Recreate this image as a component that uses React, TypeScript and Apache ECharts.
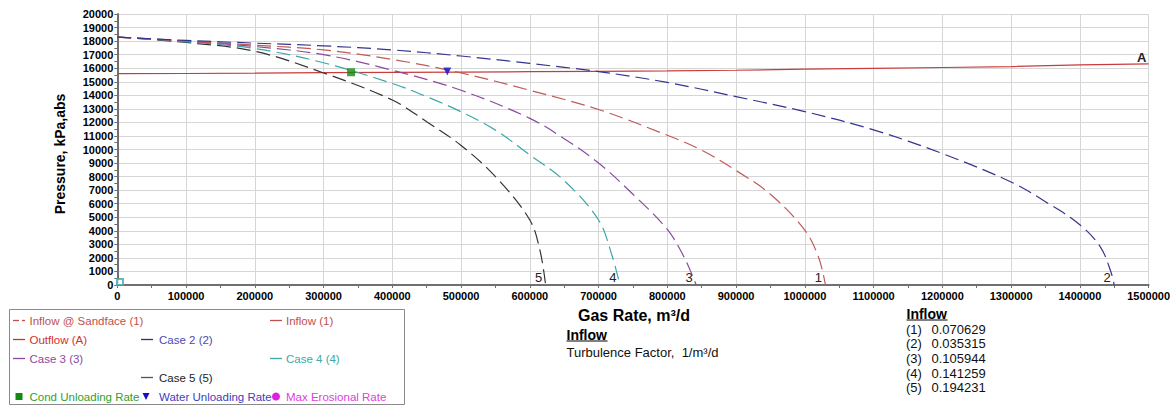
import React, { useEffect, useRef } from "react";
import * as echarts from "echarts";

// ---------- data ----------
const case1Rate = [0, 100000, 200000, 300000, 400000, 500000, 600000, 700000, 800000, 850000, 900000, 950000, 1000000, 1020000, 1030000];
const case1Pres = [18300, 18000, 17700, 17350, 16650, 15650, 14370, 12950, 11050, 9950, 8450, 6700, 4050, 2050, 0];

const case2Rate = [0, 100000, 200000, 300000, 400000, 500000, 600000, 700000, 800000, 900000, 1000000, 1100000, 1200000, 1300000, 1350000, 1400000, 1430000, 1445000, 1450000];
const case2Pres = [18300, 18050, 17850, 17650, 17350, 16900, 16350, 15750, 14950, 13900, 12800, 11450, 9700, 7600, 6150, 4450, 2800, 1000, 0];

const case3Rate = [0, 100000, 200000, 300000, 400000, 500000, 600000, 650000, 700000, 750000, 800000, 825000, 842000];
const case3Pres = [18300, 18000, 17600, 17000, 15850, 14370, 12300, 10800, 9000, 6700, 4100, 2000, 0];

const case4Rate = [0, 100000, 200000, 300000, 400000, 450000, 500000, 550000, 600000, 650000, 700000, 720000, 731000];
const case4Pres = [18300, 17950, 17450, 16400, 14870, 13900, 12780, 11430, 9600, 7700, 4800, 2100, 0];

const case5Rate = [0, 100000, 200000, 300000, 400000, 450000, 500000, 550000, 600000, 615000, 623000];
const case5Pres = [18300, 17900, 17250, 15650, 13650, 12050, 10300, 8000, 4800, 2500, 0];

const outflowRate = [0, 100000, 200000, 300000, 400000, 500000, 600000, 700000, 800000, 900000, 1000000, 1100000, 1200000, 1300000, 1400000, 1500000];
const outflowPres = [15600, 15610, 15630, 15670, 15690, 15710, 15740, 15770, 15800, 15850, 15930, 15990, 16050, 16120, 16250, 16320];

const condUnloading = [[340000, 15700]];
const waterUnloading = [[480000, 15750]];
const originMarker = [[3900, 220]];

const caseTags = ["1", "2", "3", "4", "5"];
const turbulenceFactors = ["0.070629", "0.035315", "0.105944", "0.141259", "0.194231"];

const legendEntries = [
  { text: "Inflow @ Sandface (1)", color: "#c0504d", textColor: "#c0504d", col: 0, row: 0, kind: "dashdot" },
  { text: "Inflow (1)", color: "#c0504d", textColor: "#c0504d", col: 2, row: 0, kind: "line" },
  { text: "Outflow (A)", color: "#d03030", textColor: "#d03030", col: 0, row: 1, kind: "line" },
  { text: "Case 2 (2)", color: "#2a2a90", textColor: "#4a4ab0", col: 1, row: 1, kind: "line" },
  { text: "Case 3 (3)", color: "#8a4aa0", textColor: "#8a4aa0", col: 0, row: 2, kind: "line" },
  { text: "Case 4 (4)", color: "#40a8a8", textColor: "#40a8a8", col: 2, row: 2, kind: "line" },
  { text: "Case 5 (5)", color: "#555555", textColor: "#222222", col: 1, row: 3, kind: "line" },
  { text: "Cond Unloading Rate", color: "#108a10", textColor: "#30a030", col: 0, row: 4, kind: "square" },
  { text: "Water Unloading Rate", color: "#1010c8", textColor: "#4040c0", col: 1, row: 4, kind: "triangle" },
  { text: "Max Erosional Rate", color: "#e020e0", textColor: "#e040e0", col: 2, row: 4, kind: "circle" },
];

const FONT = "'Liberation Sans', Arial, sans-serif";

function iprSeries(name: string, rates: number[], pres: number[], color: string, tag: string) {
  const data = rates.map((q, i) =>
    i === rates.length - 1
      ? { value: [q, pres[i]], label: { show: true, formatter: tag } }
      : [q, pres[i]]
  );
  return {
    type: "line",
    name,
    data,
    showSymbol: true,
    symbol: "circle",
    symbolSize: 0,
    smooth: 0.35,
    silent: true,
    lineStyle: { color, width: 1.2, type: [14, 6] },
    itemStyle: { color },
    label: { show: false, position: "inside", offset: [-7, -8], fontSize: 13, color: "#222", fontFamily: FONT },
    z: 3,
  };
}

function buildGraphics() {
  const g: any[] = [];
  g.push({
    type: "text", x: 60, y: 154, rotation: Math.PI / 2,
    style: { text: "Pressure, kPa,abs", font: `bold 14px ${FONT}`, fill: "#000", textAlign: "center", textVerticalAlign: "middle" },
  });
  g.push({
    type: "text", x: 634, y: 315,
    style: { text: "Gas Rate, m³/d", font: `bold 16px ${FONT}`, fill: "#000", textAlign: "center", textVerticalAlign: "middle" },
  });
  g.push({ type: "text", x: 566.5, y: 335, style: { text: "Inflow", font: `bold 14px ${FONT}`, fill: "#000", textVerticalAlign: "middle" } });
  g.push({ type: "line", shape: { x1: 566.5, y1: 341, x2: 607.5, y2: 341 }, style: { stroke: "#000", lineWidth: 1.2 } });
  g.push({ type: "text", x: 566.5, y: 352, style: { text: "Turbulence Factor,  1/m³/d", font: `13px ${FONT}`, fill: "#111", textVerticalAlign: "middle" } });
  g.push({ type: "text", x: 906.5, y: 314, style: { text: "Inflow", font: `bold 14px ${FONT}`, fill: "#000", textVerticalAlign: "middle" } });
  g.push({ type: "line", shape: { x1: 906.5, y1: 320, x2: 947.5, y2: 320 }, style: { stroke: "#000", lineWidth: 1.2 } });
  turbulenceFactors.forEach((v, i) => {
    const y = 329.3 + i * 14.6;
    g.push({ type: "text", x: 906, y, style: { text: `(${i + 1})`, font: `13px ${FONT}`, fill: "#111", textVerticalAlign: "middle" } });
    g.push({ type: "text", x: 931.5, y, style: { text: v, font: `13px ${FONT}`, fill: "#111", textVerticalAlign: "middle" } });
  });
  g.push({ type: "rect", shape: { x: 9.5, y: 309.5, width: 395, height: 95 }, style: { fill: "#fff", stroke: "#8a8a8a", lineWidth: 1 } });
  const lineX = [13, 141, 270];
  const textX = [29.5, 159, 286];
  legendEntries.forEach((e) => {
    const y = 320.5 + e.row * 19;
    const lx = lineX[e.col];
    if (e.kind === "line") {
      g.push({ type: "line", shape: { x1: lx, y1: y, x2: lx + 12, y2: y }, style: { stroke: e.color, lineWidth: 1.3 } });
    } else if (e.kind === "dashdot") {
      g.push({ type: "line", shape: { x1: lx, y1: y, x2: lx + 6, y2: y }, style: { stroke: e.color, lineWidth: 1.3 } });
      g.push({ type: "line", shape: { x1: lx + 9, y1: y, x2: lx + 12, y2: y }, style: { stroke: e.color, lineWidth: 1.3 } });
    } else if (e.kind === "square") {
      g.push({ type: "rect", shape: { x: lx + 2.5, y: y - 3.5, width: 7, height: 7 }, style: { fill: e.color } });
    } else if (e.kind === "triangle") {
      g.push({ type: "polygon", shape: { points: [[lx + 1.5, y - 3.5], [lx + 8.5, y - 3.5], [lx + 5, y + 3.5]] }, style: { fill: e.color } });
    } else if (e.kind === "circle") {
      g.push({ type: "circle", shape: { cx: lx + 6, cy: y, r: 4 }, style: { fill: e.color } });
    }
    g.push({ type: "text", x: textX[e.col], y, style: { text: e.text, font: `11.5px ${FONT}`, fill: e.textColor, textVerticalAlign: "middle" } });
  });
  return g;
}

export default function App() {
  const ref = useRef<HTMLDivElement>(null);
  useEffect(() => {
    document.body.style.margin = "0";
    if (!ref.current) return;
    const chart = echarts.init(ref.current, undefined, { renderer: "svg" });
    const axisLabel = { fontSize: 11, fontWeight: "bold", color: "#000", fontFamily: FONT };
    const outflowData = outflowRate.map((q, i) =>
      i === outflowRate.length - 1
        ? { value: [q, outflowPres[i]], label: { show: true, formatter: "A" } }
        : [q, outflowPres[i]]
    );
    chart.setOption({
      animation: false,
      backgroundColor: "#fff",
      grid: { left: 117.3, right: 24, top: 14, bottom: 120, containLabel: false },
      xAxis: {
        type: "value", min: 0, max: 1500000, interval: 100000,
        axisLine: { show: true, onZero: false, lineStyle: { color: "#707070", width: 2 } },
        axisTick: { show: true, length: 3, lineStyle: { color: "#707070" } },
        minorTick: { show: true, splitNumber: 2, length: 3, lineStyle: { color: "#707070" } },
        axisLabel: { ...axisLabel, margin: 5, formatter: (v: number) => String(v) },
        splitLine: { show: true, lineStyle: { color: "#d6d6d6", width: 1 } },
      },
      yAxis: {
        type: "value", min: 0, max: 20000, interval: 1000,
        axisLine: { show: true, onZero: false, lineStyle: { color: "#707070", width: 2 } },
        axisTick: { show: true, length: 3, lineStyle: { color: "#707070" } },
        minorTick: { show: true, splitNumber: 2, length: 3, lineStyle: { color: "#707070" } },
        axisLabel: { ...axisLabel, margin: 4, formatter: (v: number) => String(v) },
        splitLine: { show: true, lineStyle: { color: "#d6d6d6", width: 1 } },
      },
      series: [
        {
          type: "line", name: "Outflow (A)", data: outflowData,
          showSymbol: true, symbol: "circle", symbolSize: 0, silent: true,
          lineStyle: { color: "#c83c3c", width: 1.2 }, itemStyle: { color: "#c83c3c" },
          label: { show: false, position: "inside", offset: [-7, -6], fontSize: 13, fontWeight: "bold", color: "#222", fontFamily: FONT },
          z: 2,
        },
        iprSeries("Case 5 (5)", case5Rate, case5Pres, "#333333", caseTags[4]),
        iprSeries("Case 4 (4)", case4Rate, case4Pres, "#3aa6a6", caseTags[3]),
        iprSeries("Case 3 (3)", case3Rate, case3Pres, "#8a4aa0", caseTags[2]),
        iprSeries("Inflow @ Sandface (1)", case1Rate, case1Pres, "#c05a58", caseTags[0]),
        iprSeries("Case 2 (2)", case2Rate, case2Pres, "#34348e", caseTags[1]),
        {
          type: "scatter", name: "Cond Unloading Rate", data: condUnloading,
          symbol: "rect", symbolSize: 8, itemStyle: { color: "#108a10" }, z: 5, silent: true,
        },
        {
          type: "scatter", name: "Water Unloading Rate", data: waterUnloading,
          symbol: "triangle", symbolRotate: 180, symbolSize: 8, itemStyle: { color: "#1010c8" }, z: 5, silent: true,
        },
        {
          type: "scatter", name: "origin", data: originMarker,
          symbol: "emptyRect", symbolSize: 6, itemStyle: { color: "#40a8a8", borderWidth: 1 }, z: 5, silent: true,
        },
      ],
      graphic: buildGraphics(),
    });
    return () => chart.dispose();
  }, []);
  return <div ref={ref} style={{ width: 1173, height: 405 }} />;
}
